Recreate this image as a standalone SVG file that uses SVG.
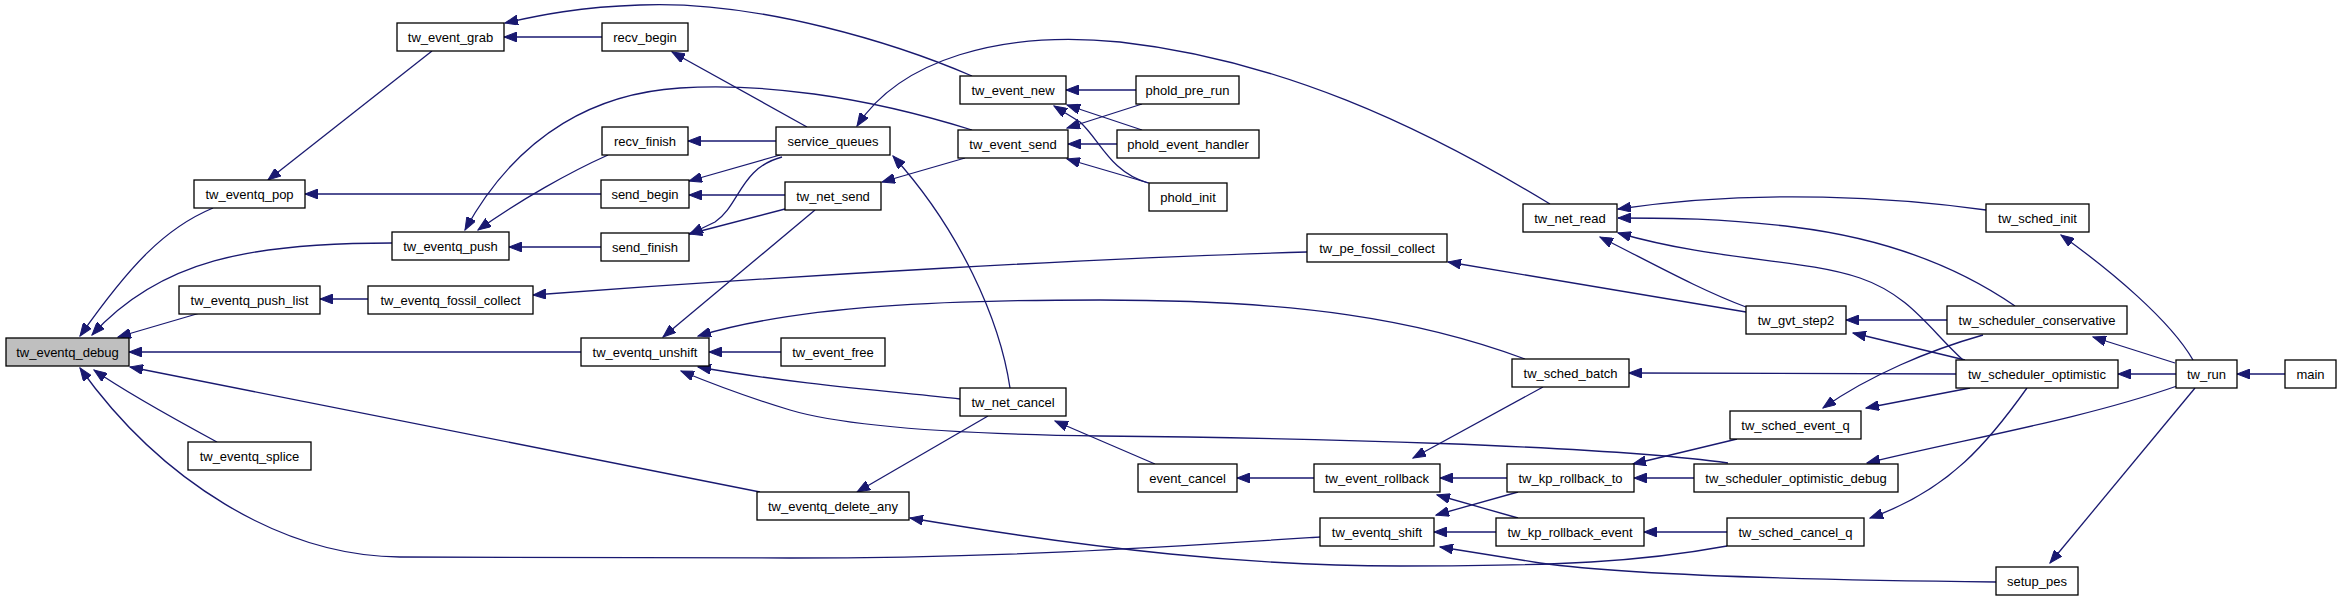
<svg xmlns="http://www.w3.org/2000/svg" width="2341" height="601" viewBox="0 0 2341 601">
<style>
.n rect{fill:#fff;stroke:#000;stroke-width:1.3}
.n.h rect{fill:#bfbfbf}
.n text{font-family:"Liberation Sans",Arial,sans-serif;font-size:13px;text-anchor:middle;fill:#000}
.e path{fill:none;stroke:#191970;stroke-width:1.3;marker-end:url(#a)}
</style>
<defs>
<marker id="a" markerUnits="userSpaceOnUse" markerWidth="14" markerHeight="10" refX="13" refY="5" orient="auto">
<path d="M0,0 L13,5 L0,10 z" fill="#191970" stroke="#191970" stroke-width="1"/>
</marker>
</defs>
<rect width="2341" height="601" fill="#fff"/>
<g id="connectors" class="e">
<path d="M213,208 C165,228 130,265 80,336"/>
<path d="M392,243 C250,243 160,260 92,335"/>
<path d="M200,313 L118,337"/>
<path d="M581,352 L129,352"/>
<path d="M760,492 L130,367"/>
<path d="M217,442 C180,422 130,395 94,370"/>
<path d="M1320,537 C1150,548 1000,558 790,558 L400,557 C280,556 160,480 80,368"/>
<path d="M432,51 L268,180"/>
<path d="M601,194 L305,194"/>
<path d="M602,37 L504,37"/>
<path d="M972,76 C900,45 760,0 640,5 C580,7 540,15 505,23"/>
<path d="M601,247 L509,247"/>
<path d="M608,155 C570,172 520,200 478,230"/>
<path d="M972,130 C860,95 760,83 680,88 C600,93 520,130 465,230"/>
<path d="M368,299 L320,299"/>
<path d="M1307,252 C1100,258 800,275 533,295"/>
<path d="M807,127 L672,52"/>
<path d="M776,141 L688,141"/>
<path d="M780,155 L689,181"/>
<path d="M782,157 C740,168 740,205 715,222 L690,234"/>
<path d="M785,195 L689,195"/>
<path d="M785,209 L689,234"/>
<path d="M815,210 L663,337"/>
<path d="M1550,204 C1420,125 1280,60 1120,42 C1000,30 900,60 857,126"/>
<path d="M1010,388 C1000,320 960,230 893,156"/>
<path d="M965,158 L882,182"/>
<path d="M1136,90 L1066,90"/>
<path d="M1142,130 L1067,105"/>
<path d="M1148,183 C1110,172 1100,140 1080,122 L1054,106"/>
<path d="M1142,104 L1067,128"/>
<path d="M1117,144 L1068,144"/>
<path d="M1149,183 L1067,159"/>
<path d="M781,352 L709,352"/>
<path d="M1525,359 C1420,320 1300,300 1100,300 C950,300 800,305 698,336"/>
<path d="M960,399 C900,392 800,385 698,367"/>
<path d="M1728,463 C1600,445 1300,438 1100,436 C950,434 840,425 790,410 C750,398 715,385 681,371"/>
<path d="M1155,464 L1055,421"/>
<path d="M988,416 L857,492"/>
<path d="M1727,546 C1640,562 1560,566 1400,566 C1250,566 1100,550 910,518"/>
<path d="M1314,478 L1237,478"/>
<path d="M1543,387 L1413,458"/>
<path d="M1507,478 L1440,478"/>
<path d="M1518,518 L1437,495"/>
<path d="M1518,492 L1436,515"/>
<path d="M1496,532 L1434,532"/>
<path d="M1996,582 C1800,580 1620,574 1540,563 L1440,547"/>
<path d="M1956,374 L1629,373"/>
<path d="M1737,439 L1633,464"/>
<path d="M1694,478 L1634,478"/>
<path d="M1727,532 L1644,532"/>
<path d="M1746,312 L1448,262"/>
<path d="M1746,307 C1700,290 1650,262 1600,237"/>
<path d="M1986,210 C1900,198 1760,188 1618,209"/>
<path d="M2015,306 C1970,275 1900,240 1793,227 C1720,218 1670,218 1618,218"/>
<path d="M1963,360 C1930,330 1910,295 1860,278 C1800,258 1720,262 1618,233"/>
<path d="M1947,320 L1846,320"/>
<path d="M1965,360 L1853,333"/>
<path d="M1983,335 C1930,350 1870,375 1823,408"/>
<path d="M1970,388 L1866,408"/>
<path d="M2177,386 C2080,420 1960,440 1867,463"/>
<path d="M2027,388 C1990,440 1950,490 1870,518"/>
<path d="M2193,360 C2170,320 2110,270 2061,235"/>
<path d="M2175,363 L2093,337"/>
<path d="M2176,374 L2118,374"/>
<path d="M2285,374 L2237,374"/>
<path d="M2195,388 L2050,563"/>
</g>
<g id="tw_eventq_debug" class="n h"><rect x="6" y="338" width="123" height="28"/><text x="67.5" y="356.5">tw_eventq_debug</text></g>
<g id="tw_eventq_pop" class="n"><rect x="194" y="180" width="111" height="28"/><text x="249.5" y="198.5">tw_eventq_pop</text></g>
<g id="tw_eventq_push" class="n"><rect x="392" y="232" width="117" height="28"/><text x="450.5" y="250.5">tw_eventq_push</text></g>
<g id="tw_eventq_push_list" class="n"><rect x="179" y="286" width="141" height="28"/><text x="249.5" y="304.5">tw_eventq_push_list</text></g>
<g id="tw_eventq_splice" class="n"><rect x="188" y="442" width="123" height="28"/><text x="249.5" y="460.5">tw_eventq_splice</text></g>
<g id="tw_eventq_fossil_collect" class="n"><rect x="368" y="286" width="165" height="28"/><text x="450.5" y="304.5">tw_eventq_fossil_collect</text></g>
<g id="tw_eventq_unshift" class="n"><rect x="581" y="338" width="128" height="28"/><text x="645" y="356.5">tw_eventq_unshift</text></g>
<g id="tw_eventq_delete_any" class="n"><rect x="757" y="492" width="152" height="28"/><text x="833" y="510.5">tw_eventq_delete_any</text></g>
<g id="tw_event_grab" class="n"><rect x="397" y="23" width="107" height="28"/><text x="450.5" y="41.5">tw_event_grab</text></g>
<g id="recv_begin" class="n"><rect x="602" y="23" width="86" height="28"/><text x="645" y="41.5">recv_begin</text></g>
<g id="recv_finish" class="n"><rect x="602" y="127" width="86" height="28"/><text x="645" y="145.5">recv_finish</text></g>
<g id="send_begin" class="n"><rect x="601" y="180" width="88" height="28"/><text x="645" y="198.5">send_begin</text></g>
<g id="send_finish" class="n"><rect x="601" y="233" width="88" height="28"/><text x="645" y="251.5">send_finish</text></g>
<g id="service_queues" class="n"><rect x="776" y="127" width="114" height="28"/><text x="833" y="145.5">service_queues</text></g>
<g id="tw_net_send" class="n"><rect x="785" y="182" width="96" height="28"/><text x="833" y="200.5">tw_net_send</text></g>
<g id="tw_event_free" class="n"><rect x="781" y="338" width="104" height="28"/><text x="833" y="356.5">tw_event_free</text></g>
<g id="tw_net_cancel" class="n"><rect x="960" y="388" width="106" height="28"/><text x="1013" y="406.5">tw_net_cancel</text></g>
<g id="tw_event_new" class="n"><rect x="960" y="76" width="106" height="28"/><text x="1013" y="94.5">tw_event_new</text></g>
<g id="tw_event_send" class="n"><rect x="958" y="130" width="110" height="28"/><text x="1013" y="148.5">tw_event_send</text></g>
<g id="phold_pre_run" class="n"><rect x="1136" y="76" width="103" height="28"/><text x="1187.5" y="94.5">phold_pre_run</text></g>
<g id="phold_event_handler" class="n"><rect x="1117" y="130" width="142" height="28"/><text x="1188" y="148.5">phold_event_handler</text></g>
<g id="phold_init" class="n"><rect x="1149" y="183" width="78" height="28"/><text x="1188" y="201.5">phold_init</text></g>
<g id="event_cancel" class="n"><rect x="1138" y="464" width="99" height="28"/><text x="1187.5" y="482.5">event_cancel</text></g>
<g id="tw_pe_fossil_collect" class="n"><rect x="1307" y="234" width="140" height="28"/><text x="1377" y="252.5">tw_pe_fossil_collect</text></g>
<g id="tw_net_read" class="n"><rect x="1523" y="204" width="94" height="28"/><text x="1570" y="222.5">tw_net_read</text></g>
<g id="tw_sched_batch" class="n"><rect x="1512" y="359" width="117" height="28"/><text x="1570.5" y="377.5">tw_sched_batch</text></g>
<g id="tw_event_rollback" class="n"><rect x="1314" y="464" width="126" height="28"/><text x="1377" y="482.5">tw_event_rollback</text></g>
<g id="tw_eventq_shift" class="n"><rect x="1320" y="518" width="114" height="28"/><text x="1377" y="536.5">tw_eventq_shift</text></g>
<g id="tw_kp_rollback_to" class="n"><rect x="1507" y="464" width="127" height="28"/><text x="1570.5" y="482.5">tw_kp_rollback_to</text></g>
<g id="tw_kp_rollback_event" class="n"><rect x="1496" y="518" width="148" height="28"/><text x="1570" y="536.5">tw_kp_rollback_event</text></g>
<g id="tw_gvt_step2" class="n"><rect x="1746" y="306" width="100" height="28"/><text x="1796" y="324.5">tw_gvt_step2</text></g>
<g id="tw_sched_event_q" class="n"><rect x="1730" y="411" width="131" height="28"/><text x="1795.5" y="429.5">tw_sched_event_q</text></g>
<g id="tw_scheduler_optimistic_debug" class="n"><rect x="1694" y="464" width="204" height="28"/><text x="1796" y="482.5">tw_scheduler_optimistic_debug</text></g>
<g id="tw_sched_cancel_q" class="n"><rect x="1727" y="518" width="137" height="28"/><text x="1795.5" y="536.5">tw_sched_cancel_q</text></g>
<g id="tw_scheduler_conservative" class="n"><rect x="1947" y="306" width="180" height="28"/><text x="2037" y="324.5">tw_scheduler_conservative</text></g>
<g id="tw_scheduler_optimistic" class="n"><rect x="1956" y="360" width="162" height="28"/><text x="2037" y="378.5">tw_scheduler_optimistic</text></g>
<g id="tw_sched_init" class="n"><rect x="1986" y="204" width="103" height="28"/><text x="2037.5" y="222.5">tw_sched_init</text></g>
<g id="tw_run" class="n"><rect x="2176" y="360" width="61" height="28"/><text x="2206.5" y="378.5">tw_run</text></g>
<g id="main" class="n"><rect x="2285" y="360" width="51" height="28"/><text x="2310.5" y="378.5">main</text></g>
<g id="setup_pes" class="n"><rect x="1996" y="567" width="82" height="28"/><text x="2037" y="585.5">setup_pes</text></g>
</svg>
